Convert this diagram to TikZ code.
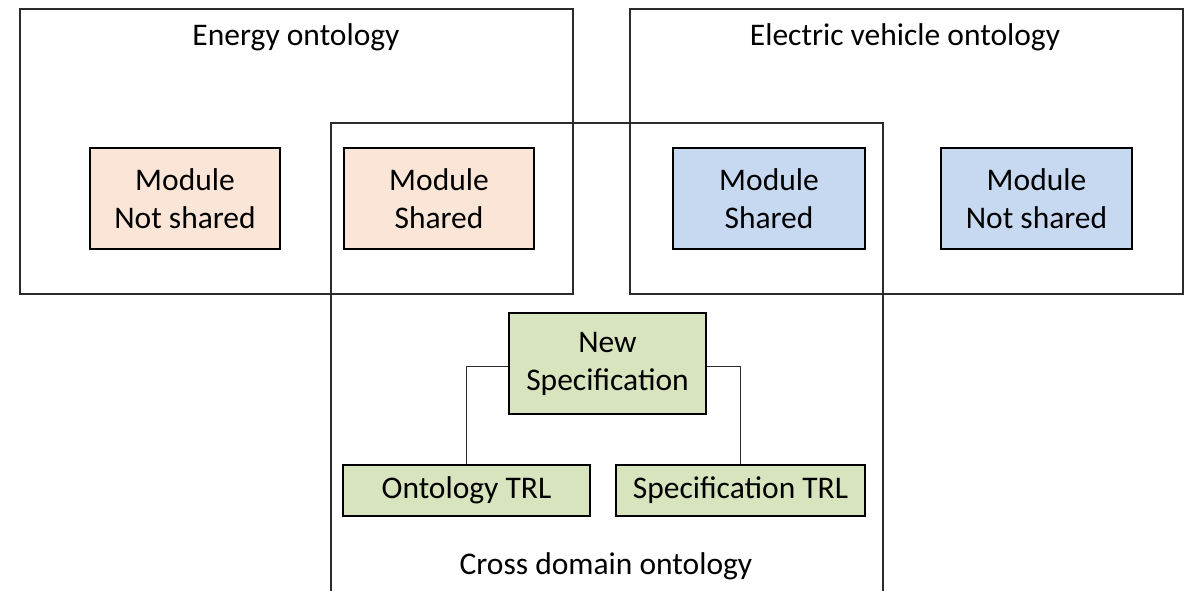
\documentclass[tikz,border=0pt]{standalone}
\usepackage{fontspec}
\setmainfont{Carlito}
\definecolor{peach}{HTML}{FBE5D6}
\definecolor{paleblue}{HTML}{C6D9F1}
\definecolor{palegreen}{HTML}{D7E4BD}
\definecolor{frame}{HTML}{2B2B2B}
\tikzset{
  container/.style={draw=frame, line width=1.5pt, inner sep=0pt, anchor=center},
  modbox/.style={draw=black, line width=1.5pt, inner sep=0pt, align=center,
    minimum width=190pt, minimum height=101pt, font=\fontsize{31.5}{38}\selectfont},
  greenbox/.style={draw=black, line width=1.5pt, inner sep=0pt, align=center,
    fill=palegreen, font=\fontsize{31.5}{38}\selectfont},
  title/.style={inner sep=0pt, font=\fontsize{31.5}{38}\selectfont},
  link/.style={draw=frame, line width=1.6pt}
}
\begin{document}
\begin{tikzpicture}[x=1pt,y=-1pt]
\useasboundingbox (0,0) rectangle (1188,590);
\clip (0,0) rectangle (1188,590);
\fill[white] (0,0) rectangle (1188,590);
% containers
\node[container, minimum width=553pt, minimum height=285pt] (energy) at (296.5,151.5) {};
\node[container, minimum width=553pt, minimum height=285pt] (ev) at (906.5,151.5) {};
\coordinate (cdbl) at (331,620);
\coordinate (cdtl) at (331,123);
\coordinate (cdtr) at (883,123);
\coordinate (cdbr) at (883,620);
\draw[link] (cdbl) -- (cdtl) -- (cdtr) -- (cdbr);
% titles
\node[title] (energyt) at (296,37) {Energy ontology};
\node[title] (evt) at (905,37) {Electric vehicle ontology};
\node[title] (cdt) at (606,566) {Cross domain ontology};
% modules
\node[modbox, fill=peach] (m1) at (185,198.5) {Module\\Not shared};
\node[modbox, fill=peach] (m2) at (439,198.5) {Module\\Shared};
\node[modbox, fill=paleblue, minimum width=192pt] (m3) at (769,198.5) {Module\\Shared};
\node[modbox, fill=paleblue, minimum width=191pt] (m4) at (1036.5,198.5) {Module\\Not shared};
% cross domain contents
\node[greenbox, minimum width=197pt, minimum height=101pt] (ns) at (607.5,363.5) {New\\Specification};
\node[greenbox, minimum width=247pt, minimum height=51pt] (ot) at (466.5,490.5) {Ontology TRL};
\node[greenbox, minimum width=249pt, minimum height=51pt] (st) at (740.5,490.5) {Specification TRL};
\draw[link] ([yshift=-3pt]ns.west) -| (ot.north);
\draw[link] ([yshift=-3pt]ns.east) -| (st.north);
\end{tikzpicture}
\end{document}
